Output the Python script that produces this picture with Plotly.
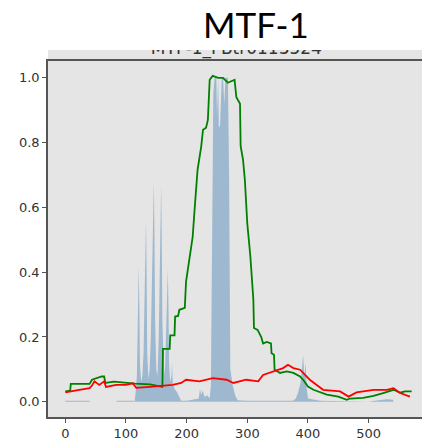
import plotly.graph_objects as go

# ---- data ----
x_blue = [0, 40, 41, 84, 85, 113, 114, 116, 118, 119, 120, 121, 122, 123, 125, 127, 129, 131, 133, 134,
          135, 137, 139, 141, 143, 145, 146, 147, 148, 150, 152, 154, 156, 158, 159, 160, 162, 164, 166,
          168, 169, 170, 171, 173, 175, 176, 177, 180, 184, 188, 191, 200, 220, 222, 224, 226, 230, 234,
          238, 240, 242, 244, 246, 249, 250, 252, 253, 255, 258, 260, 262, 264, 268, 270, 272, 276, 280,
          284, 300, 375, 380, 384, 388, 390, 392, 394, 396, 398, 400, 420, 499, 500, 510, 520, 530, 540,
          541]
y_blue = [0.003, 0.003, 0.0, 0.0, 0.003, 0.003, 0.0, 0.03, 0.08, 0.2, 0.32, 0.42, 0.3, 0.12, 0.06, 0.08,
          0.15, 0.35, 0.56, 0.4, 0.15, 0.07, 0.1, 0.2, 0.4, 0.6, 0.68, 0.5, 0.25, 0.1, 0.08, 0.2, 0.45,
          0.67, 0.5, 0.25, 0.12, 0.08, 0.2, 0.33, 0.41, 0.3, 0.12, 0.06, 0.08, 0.12, 0.06, 0.04, 0.03,
          0.015, 0.003, 0.003, 0.01, 0.04, 0.02, 0.035, 0.015, 0.02, 0.01, 0.05, 0.5, 0.95, 1.0, 1.0,
          0.88, 1.0, 0.85, 0.85, 1.0, 1.0, 0.92, 1.0, 1.0, 0.7, 0.1, 0.05, 0.02, 0.005, 0.003, 0.003,
          0.01, 0.03, 0.06, 0.1, 0.145, 0.08, 0.12, 0.04, 0.01, 0.003, 0.0, 0.0, 0.003, 0.006, 0.008,
          0.006, 0.003, 0.0]

x_green = [0, 8, 9, 40, 44, 50, 60, 64, 66, 80, 90, 110, 115, 140, 160, 161, 172, 173, 180, 181, 186, 188,
           197, 199, 203, 206, 210, 213, 216, 218, 224, 227, 232, 235, 238, 243, 252, 260, 268, 279, 282,
           288, 289, 293, 296, 300, 305, 308, 310, 311, 317, 323, 326, 332, 339, 340, 344, 345, 354, 365,
           376, 387, 392, 400, 409, 431, 450, 464, 469, 491, 508, 524, 541, 552, 560, 571]
y_green = [0.032, 0.034, 0.055, 0.055, 0.068, 0.072, 0.078, 0.078, 0.058, 0.062, 0.06, 0.058, 0.056,
           0.054, 0.046, 0.163, 0.163, 0.205, 0.205, 0.263, 0.265, 0.284, 0.29, 0.37, 0.418, 0.454, 0.51,
           0.59, 0.685, 0.716, 0.788, 0.84, 0.846, 0.87, 0.994, 1.006, 1.0, 1.0, 0.985, 0.994, 0.94, 0.92,
           0.79, 0.747, 0.685, 0.55, 0.45, 0.36, 0.315, 0.228, 0.222, 0.2, 0.18, 0.185, 0.18, 0.15, 0.145,
           0.099, 0.089, 0.094, 0.089, 0.078, 0.068, 0.047, 0.037, 0.022, 0.016, 0.006, 0.01, 0.012,
           0.018, 0.027, 0.037, 0.028, 0.032, 0.032]

x_red = [0, 12, 23, 40, 44, 48, 56, 64, 67, 84, 100, 111, 117, 139, 161, 177, 191, 199, 221, 243, 266,
         277, 298, 318, 326, 343, 359, 367, 376, 387, 403, 425, 453, 467, 480, 508, 530, 541, 552, 568]
y_red = [0.029, 0.032, 0.037, 0.042, 0.05, 0.063, 0.052, 0.063, 0.046, 0.052, 0.052, 0.057, 0.043,
         0.046, 0.05, 0.052, 0.058, 0.068, 0.063, 0.073, 0.068, 0.058, 0.068, 0.063, 0.083, 0.094, 0.104,
         0.114, 0.104, 0.099, 0.068, 0.037, 0.032, 0.016, 0.029, 0.037, 0.037, 0.042, 0.027, 0.016]

x_ticks = [0, 100, 200, 300, 400, 500]
y_ticks = [0.0, 0.2, 0.4, 0.6, 0.8, 1.0]
y_tick_labels = ["0.0", "0.2", "0.4", "0.6", "0.8", "1.0"]

main_title = "MTF-1"
sub_title = "MTF-1_FBtr0113524"

# ---- layout geometry ----
W, H = 422, 445
M_L, M_B = 48, 28
PLOT_TOP_PX = 61
SUB_CLIP_TOP_PX = 50
area_h = H - M_B
main_dom_top = (H - M_B - PLOT_TOP_PX) / area_h
sub_dom = [(H - M_B - PLOT_TOP_PX) / area_h, (H - M_B - SUB_CLIP_TOP_PX) / area_h]

fig = go.Figure()
fig.add_trace(go.Scatter(x=x_blue, y=y_blue, mode="lines", fill="tozeroy",
                         line=dict(width=0, color="rgba(70,130,180,0)"),
                         fillcolor="rgba(70,130,180,0.45)", hoverinfo="skip", showlegend=False))
fig.add_trace(go.Scatter(x=x_green, y=y_green, mode="lines",
                         line=dict(color="#008000", width=1.8), showlegend=False))
fig.add_trace(go.Scatter(x=x_red, y=y_red, mode="lines",
                         line=dict(color="#ff0000", width=1.8), showlegend=False))
# subtitle, partially hidden (clipped) as in the reference
fig.add_trace(go.Scatter(x=[282], y=[11], mode="text", text=[sub_title], xaxis="x", yaxis="y2",
                         textposition="middle center", cliponaxis=True,
                         textfont=dict(family="DejaVu Sans", size=17, color="#333333"),
                         hoverinfo="skip", showlegend=False))

spine = "#555555"
fig.update_layout(
    width=W, height=H,
    margin=dict(l=M_L, r=0, t=0, b=M_B),
    paper_bgcolor="white", plot_bgcolor="#e5e5e5",
    xaxis=dict(range=[-28.55, 588], domain=[0, 1], tickvals=x_ticks, ticks="outside", ticklen=4,
               tickcolor=spine, showline=True, linecolor=spine, linewidth=1.5, mirror=True,
               showgrid=False, zeroline=False,
               tickfont=dict(family="DejaVu Sans", size=13, color="#333333")),
    yaxis=dict(range=[-0.047, 1.052], domain=[0, main_dom_top], tickvals=y_ticks,
               ticktext=y_tick_labels, ticks="outside", ticklen=4, tickcolor=spine,
               showline=True, linecolor=spine, linewidth=1.5, showgrid=False, zeroline=False,
               tickfont=dict(family="DejaVu Sans", size=13, color="#333333")),
    yaxis2=dict(range=[0, 11], domain=sub_dom, anchor="x", visible=False, showgrid=False,
                zeroline=False),
    annotations=[dict(text=main_title,
                      x=(256 - M_L) / (W - M_L), y=(H - M_B - 24) / area_h,
                      xref="paper", yref="paper", showarrow=False,
                      xanchor="center", yanchor="middle",
                      font=dict(family="Lato", size=35, color="black"))],
)

fig.write_html("out.html")
